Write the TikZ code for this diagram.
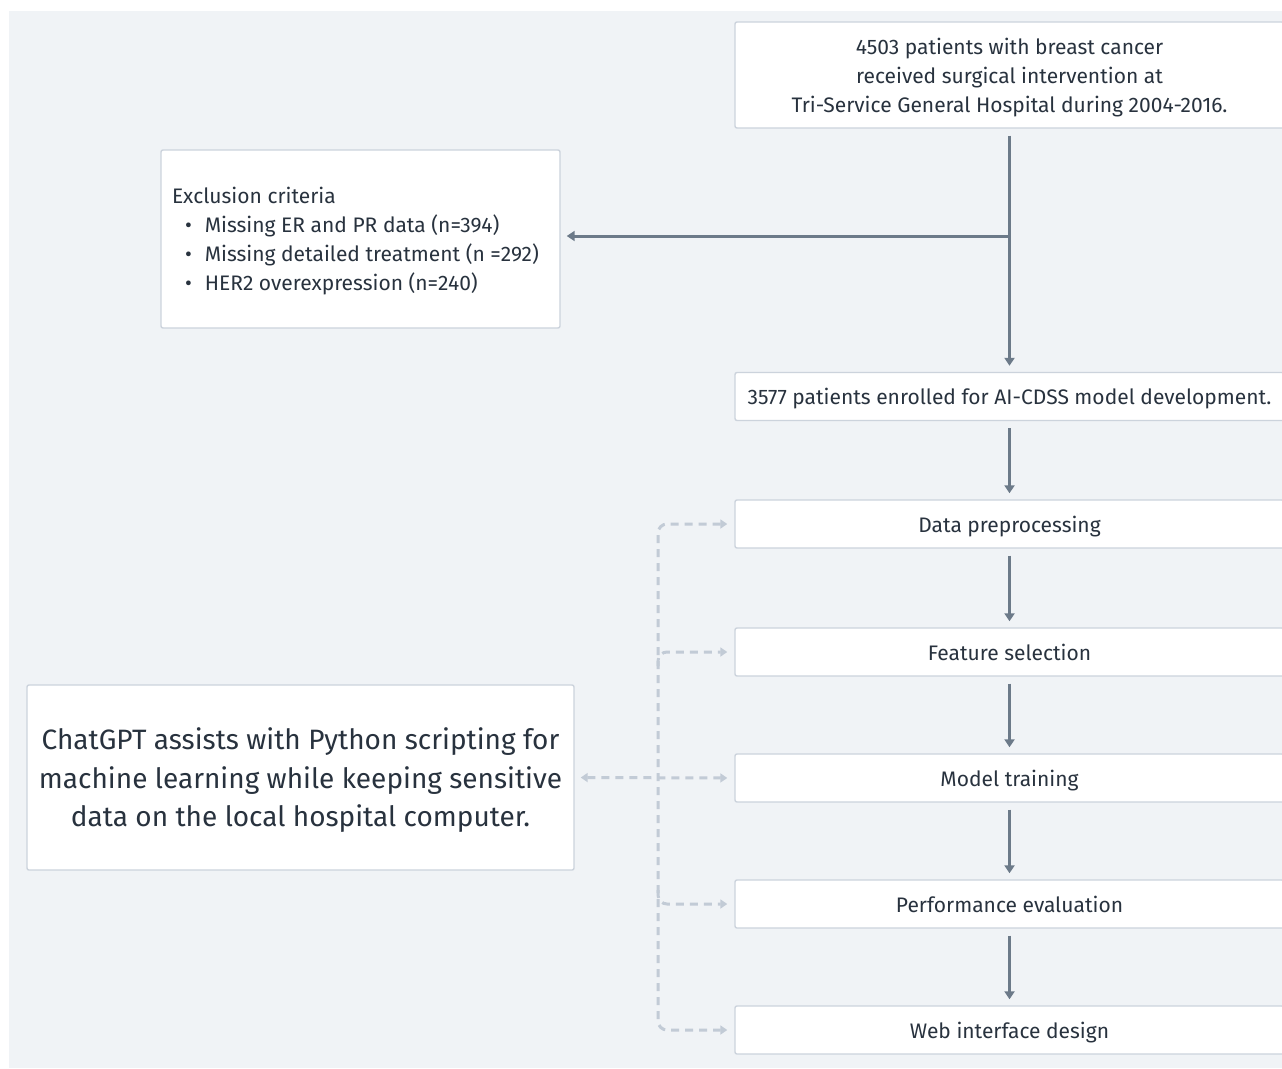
\documentclass[tikz,border=0pt]{standalone}
\usepackage{fontspec}
\setmainfont{Fira Sans}
\usetikzlibrary{arrows.meta, calc}

\definecolor{bgcol}{RGB}{240,243,246}
\definecolor{boxline}{RGB}{204,211,220}
\definecolor{flowcol}{RGB}{108,122,137}
\definecolor{dashcol}{RGB}{194,203,214}
\definecolor{txtcol}{RGB}{40,50,62}

\begin{document}
\begin{tikzpicture}[x=1pt, y=-1pt,
    % Define styles - boxes and connectors
    stepbox/.style={rectangle, rounded corners=2pt, draw=boxline, fill=white, line width=1.4pt, minimum width=549pt, minimum height=48pt, inner sep=0pt, text depth=0pt, text=txtcol, font=\fontsize{21}{29}\selectfont, align=center},
    infobox/.style={rectangle, rounded corners=2pt, draw=boxline, fill=white, line width=1.4pt, inner sep=0pt, text depth=0pt, text=txtcol},
    flow/.style={-{Triangle[width=10pt, length=8pt]}, line width=3pt, draw=flowcol, shorten <=7pt, shorten >=6pt},
    dashflow/.style={-{Triangle[width=9pt, length=7pt]}, line width=3pt, draw=dashcol, dash pattern=on 8pt off 6pt, shorten >=7pt}
]

% Canvas
\useasboundingbox (0,0) rectangle (1282,1068);
\clip (0,0) rectangle (1282,1068);
\fill[bgcol] (9,11) rectangle (1282,1068);

% Cohort boxes
\node[stepbox, minimum height=106pt] (all_patients) at (1009.5, 75) {4503 patients with breast cancer\\received surgical intervention at\\Tri-Service General Hospital during 2004-2016.};
\node[stepbox] (enrolled) at (1009.5, 396.5) {3577 patients enrolled for AI-CDSS model development.};

% Exclusion box
\node[infobox, minimum width=399pt, minimum height=178pt, align=left, font=\fontsize{21}{29}\selectfont] (exclusion) at (360.5, 239) {\makebox[377pt][l]{Exclusion criteria}\\
\hspace*{13pt}\textbullet\hspace{13pt}Missing ER and PR data (n=394)\\
\hspace*{13pt}\textbullet\hspace{13pt}Missing detailed treatment (n =292)\\
\hspace*{13pt}\textbullet\hspace{13pt}HER2 overexpression (n=240)};

% Pipeline steps
\node[stepbox] (data_prep) at (1009.5, 524) {Data preprocessing};
\node[stepbox] (feature_sel) at (1009.5, 652) {Feature selection};
\node[stepbox] (model_train) at (1009.5, 778) {Model training};
\node[stepbox] (perf_eval) at (1009.5, 904) {Performance evaluation};
\node[stepbox] (web_design) at (1009.5, 1030) {Web interface design};

% ChatGPT note
\node[infobox, minimum width=547pt, minimum height=185pt, align=center, font=\fontsize{28}{38.5}\selectfont] (chatgpt) at (300.5, 777.5) {ChatGPT assists with Python scripting for\\machine learning while keeping sensitive\\data on the local hospital computer.};

% Solid flow
\draw[flow] (all_patients.south) -- (enrolled.north);
\draw[flow, shorten <=0pt] (all_patients.south |- 0,236) -- (exclusion.east |- 0,236);
\draw[flow] (enrolled) -- (data_prep);
\draw[flow] (data_prep) -- (feature_sel);
\draw[flow] (feature_sel) -- (model_train);
\draw[flow] (model_train) -- (perf_eval);
\draw[flow] (perf_eval) -- (web_design);

% Dashed support lines
\coordinate (trunk) at (658, 0);
\draw[dashflow, {Triangle[width=9pt, length=7pt]}-{Triangle[width=9pt, length=7pt]}, rounded corners=9pt, shorten <=7pt] (data_prep.west) -| (trunk |- web_design.west) -- (web_design.west);
\draw[dashflow, rounded corners=9pt] ([yshift=-14pt]trunk |- feature_sel.west) |- (feature_sel.west);
\draw[dashflow, rounded corners=9pt] ([yshift=14pt]trunk |- perf_eval.west) |- (perf_eval.west);
\draw[dashflow, {Triangle[width=9pt, length=7pt]}-{Triangle[width=9pt, length=7pt]}, shorten <=6pt] (chatgpt.east) -- (model_train.west);

\end{tikzpicture}
\end{document}
